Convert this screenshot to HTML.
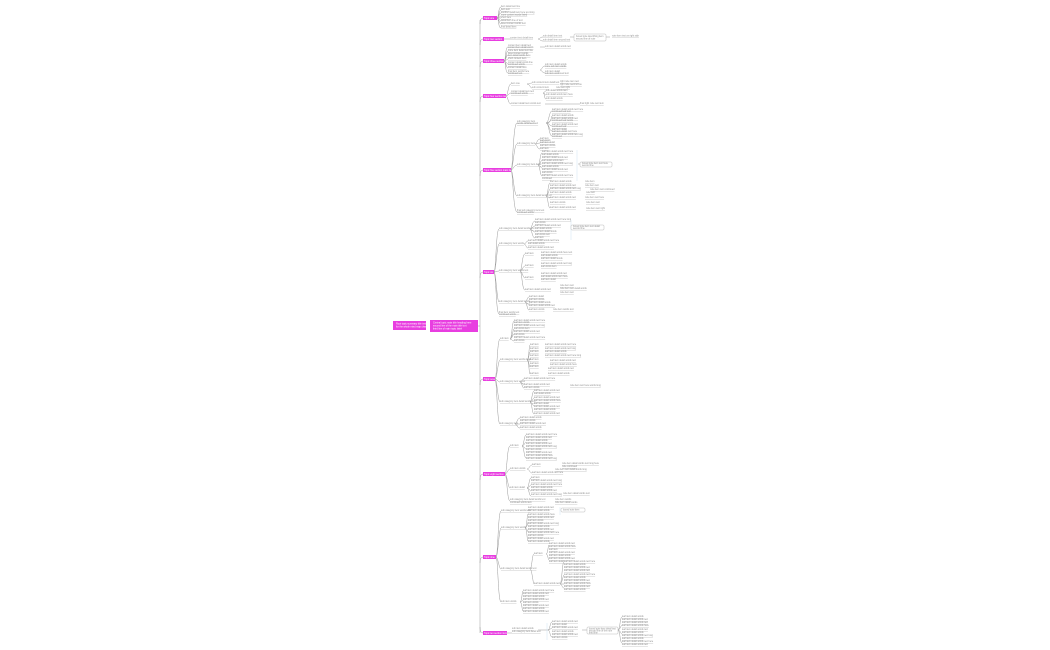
<!DOCTYPE html>
<html><head><meta charset="utf-8">
<style>
html,body{margin:0;padding:0;background:#fff;width:1050px;height:650px;overflow:hidden}
svg{display:block}
.l{font-family:"Liberation Sans",sans-serif;font-size:2.3px;fill:#8f8f8f;text-decoration:underline}
.b{font-family:"Liberation Sans",sans-serif;font-size:2.4px;fill:#fff}
.c{fill:none;stroke:#9a9a9a;stroke-width:0.5}
.u{stroke:#b4b4b4;stroke-width:0.5}
</style></head><body>
<svg width="1050" height="650" viewBox="0 0 1050 650" xmlns="http://www.w3.org/2000/svg">
<!-- root -->
<rect x="393" y="321" width="33" height="9" fill="#e83ee0"/>
<text class="b" x="396" y="324.5">Root topic summary title text</text>
<text class="b" x="396" y="327.5">for the whole mind map chart</text>
<rect x="430" y="320" width="48" height="12" fill="#e83ee0"/>
<text class="b" x="433" y="323.5">Central topic main title heading here</text>
<text class="b" x="433" y="326.5">second line of the main title text</text>
<text class="b" x="433" y="329.5">third line of main topic label</text>
<!-- spine -->
<path class="c" d="M478 326 H480 M480 20 V633"/>
<path class="c" d="M480 24 Q480 18 483 18 M480 45 Q480 39 483 39 M480 67 Q480 61 483 61 M480 102 Q480 96 483 96 M480 176 Q480 170 483 170 M480 278 Q480 272 483 272 M480 385 Q480 379 483 379 M480 480 Q480 474 483 474 M480 563 Q480 557 483 557 M480 627 Q480 633 483 633"/>
<g fill="#e83ee0">
<rect x="483" y="16" width="14" height="4"/>
<rect x="483" y="37" width="21" height="4"/>
<rect x="483" y="59" width="21" height="4"/>
<rect x="483" y="94" width="23" height="4"/>
<rect x="483" y="168" width="28" height="4"/>
<rect x="483" y="270" width="11" height="4"/>
<rect x="483" y="377" width="12" height="4"/>
<rect x="483" y="472" width="22" height="4"/>
<rect x="483" y="555" width="13" height="4"/>
<rect x="483" y="631" width="24" height="4"/>
</g>
<g class="b">
<text x="484" y="18.8">Topic one</text>
<text x="484" y="39.8">Topic two section</text>
<text x="484" y="61.8">Topic three section</text>
<text x="484" y="96.8">Topic four section item</text>
<text x="484" y="170.8">Topic five section main item</text>
<text x="484" y="272.8">Topic six</text>
<text x="484" y="379.8">Topic seven</text>
<text x="484" y="474.8">Topic eight section</text>
<text x="484" y="557.8">Topic nine</text>
<text x="484" y="633.8">Topic ten section item</text>
</g>

<!-- branch 1 -->
<path class="c" d="M497 18 C499 18 498 7 501 7 M497 18 C499 18 499 10 501 10 M497 18 C499 18 499 13 501 13 M497 18 C499 18 500 16 501 16 M497 18 H501 M497 18 C499 18 500 21 501 21 M497 18 C499 18 499 24 501 24 M497 18 C499 18 498 28 501 28"/>
<g class="l">
<text x="501" y="7">item detail text line</text>
<text x="501" y="10">item text</text>
<text x="501" y="13">another detail item here text long</text>
<text x="501" y="15.5">more content words listed</text>
<text x="501" y="18">short item</text>
<text x="501" y="21">detail item line of text</text>
<text x="501" y="24">listed content words text</text>
<text x="501" y="27.5">final detail item</text>
</g>
<!-- branch 2 -->
<path class="c" d="M504 39 H510 M538 39 C540 39 540 37 543 37 M538 39 C540 39 540 41 543 41 M570 37 H574 M606 37 H610"/>
<g class="l">
<text x="510" y="38.5">content text detail item</text>
<text x="543" y="36.5">sub detail item text</text>
<text x="543" y="40.5">sub detail item second text</text>
<text x="612" y="36.5">note item text on right side</text>
</g>
<rect x="574" y="34" width="32" height="7" rx="1" fill="#fff" stroke="#aaa" stroke-width="0.4"/>
<text class="l" x="576" y="37" style="text-decoration:none">boxed note describing item</text>
<text class="l" x="576" y="39.5" style="text-decoration:none">second line of note</text>

<!-- branch 3 -->
<path class="c" d="M504 61 C506 61 505 47 508 47 M504 61 C506 61 506 51 508 51 M504 61 C506 61 506 55 508 55 M504 61 C506 61 507 59 508 59 M504 61 C506 61 507 64 508 64 M504 61 C506 61 506 68 508 68 M504 61 C506 61 505 73 508 73 M540 47 H545 M540 70 C542 70 542 66 545 66 M540 70 C542 70 542 73 545 73"/>
<g class="l">
<text x="508" y="46">content item detail text</text><text x="508" y="48">content item detail words</text>
<text x="508" y="51">more item detail text line</text>
<text x="508" y="54">listed content words</text><text x="508" y="56">item detail words here</text>
<text x="508" y="59">short content item</text>
<text x="508" y="63">content detail words line</text><text x="508" y="65">continued words</text>
<text x="508" y="68">content detail item</text>
<text x="508" y="72">final item words here</text><text x="508" y="74">continued text</text>
<text x="545" y="47">sub item detail words text</text>
<text x="545" y="65">sub item detail words</text><text x="545" y="67">more sub item words</text>
<text x="545" y="72">sub item detail</text><text x="545" y="74">sub item continued text</text>
</g>
<!-- branch 4 -->
<path class="c" d="M506 96 C508 96 508 84 511 84 M506 96 C508 96 509 93 511 93 M506 96 C508 96 508 104 511 104 M527 84 C530 84 530 83 532 83 M527 84 C530 84 530 88 532 88 M543 93 C545 93 544 91 546 91 M543 93 C545 93 545 95 546 95 M543 93 C545 93 544 99 546 99 M545 104 H580"/>
<g class="l">
<text x="511" y="84">item one</text>
<text x="511" y="92">content detail item text</text><text x="511" y="94">continued words</text>
<text x="511" y="104">content detail item words text</text>
<text x="532" y="83">sub content item detail text</text><text x="560" y="82">right note item text</text><text x="560" y="85">right note second line</text>
<text x="532" y="88">sub content item</text><text x="556" y="88">note text right</text>
<text x="546" y="91">sub detail words item</text>
<text x="546" y="95">sub detail words item here</text>
<text x="546" y="99">sub detail words</text>
<text x="580" y="104">final right note text item</text>
</g>
<!-- branch 5 -->
<path class="c" d="M511 170 C513 170 513 123 517 123 M511 170 C513 170 514 144 517 144 M511 170 C513 170 514 165 517 165 M511 170 C513 170 514 196 517 196 M511 170 C513 170 513 212 517 212
M546 123 C549 123 549 111 552 111 M546 123 C549 123 550 123 552 116 M546 123 C549 123 550 120 552 120 M546 123 C549 123 550 126 552 126 M546 123 C549 123 549 131 552 131 M546 123 C549 123 549 136 552 136
M535 144 C537 144 537 139 540 139 M535 144 C537 144 538 143 540 143 M535 144 C537 144 537 149 540 149
M538 165 C540 165 540 153 542 153 M538 165 C540 165 541 160 542 160 M538 165 C540 165 541 168 542 168 M538 165 C540 165 540 176 542 176 M578 164 H580
M546 196 C548 196 548 183 550 183 M546 196 C548 196 549 189 550 189 M546 196 C548 196 549 198 550 198 M546 196 C548 196 548 208 550 208"/>
<line x1="577" y1="150" x2="577" y2="181" stroke="#cfe3f3" stroke-width="0.5"/>
<g class="l">
<text x="517" y="122">sub category item</text><text x="517" y="124">words continued text</text>
<text x="517" y="144">sub category item</text>
<text x="517" y="165">sub category item detail</text>
<text x="517" y="196">sub category item detail words list</text>
<text x="517" y="211">final sub category item text</text><text x="517" y="213">continued words</text>
<text x="552" y="110">leaf item detail words text here</text><text x="552" y="112">continued leaf text</text>
<text x="552" y="116">leaf item detail words</text>
<text x="552" y="119">leaf item detail words text</text><text x="552" y="121">continued leaf words</text>
<text x="552" y="125">leaf item detail words text</text><text x="552" y="127">continued leaf</text>
<text x="552" y="130">leaf item detail</text><text x="552" y="132">leaf item words text here</text>
<text x="552" y="135">leaf item detail words text long</text><text x="552" y="137">continued</text>
<text x="540" y="139">leaf item</text><text x="540" y="141">leaf words</text>
<text x="540" y="143">leaf item detail</text><text x="540" y="146">leaf item words</text>
<text x="540" y="149">leaf item</text>
<text x="542" y="152">leaf item detail words text here</text><text x="542" y="155">leaf detail words</text>
<text x="542" y="158">leaf item detail words text</text><text x="542" y="161">leaf detail words item</text>
<text x="542" y="164">leaf item detail words text long</text><text x="542" y="167">leaf detail words</text>
<text x="542" y="170">leaf item detail words text</text><text x="542" y="173">leaf words</text>
<text x="542" y="176">leaf item detail words text here</text><text x="542" y="179">continued</text>
<text x="550" y="182">leaf item detail words</text><text x="585" y="182">note item</text>
<text x="550" y="186">leaf item detail words text</text><text x="585" y="186">note item text</text>
<text x="550" y="189">leaf item detail words text long</text><text x="590" y="190">note item text continued</text>
<text x="550" y="193">leaf item detail words</text><text x="586" y="193">note text</text>
<text x="550" y="198">leaf item detail words text</text><text x="585" y="198">note item text here</text>
<text x="550" y="203">leaf item words</text><text x="586" y="203">note item text</text>
<text x="550" y="208">leaf item detail words text</text><text x="586" y="209">note item text right</text>
</g>
<rect x="580" y="162" width="32" height="5" rx="1" fill="#fff" stroke="#aaa" stroke-width="0.4"/>
<text class="l" x="582" y="164" style="text-decoration:none">boxed note item text here</text>
<text class="l" x="582" y="166.2" style="text-decoration:none">second line</text>

<!-- branch 6 -->
<path class="c" d="M494 272 C496 272 496 229 499 229 M494 272 C496 272 497 244 499 244 M494 272 C496 272 497 271 499 271 M494 272 C496 272 497 302 499 302 M494 272 C496 272 496 314 499 314
M530 229 C532 229 532 221 535 221 M530 229 C532 229 533 226 535 226 M530 229 C532 229 533 232 535 232 M530 229 C532 229 532 238 535 238
M524 244 C526 244 526 241 528 241 M524 244 C526 244 526 248 528 248
M520 271 C522 271 522 254 525 254 M520 271 C522 271 523 266 525 266 M520 271 C522 271 523 278 525 278 M520 271 C522 271 522 290 525 290
M525 302 C527 302 527 297 529 297 M525 302 C527 302 528 305 529 305 M525 302 C527 302 527 310 529 310"/>
<line x1="571" y1="220" x2="571" y2="240" stroke="#cfe3f3" stroke-width="0.5"/>
<g class="l">
<text x="499" y="229">sub category item detail words text</text>
<text x="499" y="244">sub category item words</text>
<text x="499" y="271">sub category item words text</text>
<text x="499" y="302">sub category item detail words</text>
<text x="499" y="313">final item words text</text><text x="499" y="315">continued words</text>
<text x="535" y="220">leaf item detail words text here long</text><text x="535" y="223">leaf words</text>
<text x="535" y="226">leaf item detail words text</text><text x="535" y="229">leaf detail words</text>
<text x="535" y="232">leaf item detail words</text><text x="535" y="235">leaf words text</text>
<text x="535" y="238">leaf item</text>
<text x="528" y="241">leaf item detail words text here</text><text x="528" y="244">leaf detail words</text>
<text x="528" y="248">leaf item detail words text</text>
<text x="525" y="254">leaf item</text><text x="541" y="253">leaf item detail words here text</text><text x="541" y="256">leaf detail words</text>
<text x="541" y="259">leaf item detail words</text>
<text x="525" y="266">leaf item</text><text x="541" y="264">leaf item detail words text long</text><text x="541" y="267">leaf words item</text>
<text x="525" y="278">leaf item</text><text x="541" y="274">leaf item detail words text</text><text x="541" y="277">leaf detail words item here</text><text x="541" y="280">leaf item detail</text>
<text x="525" y="290">leaf item detail words text</text><text x="560" y="286">note item text</text><text x="560" y="289">note item text detail words</text><text x="560" y="293">note item text</text>
<text x="529" y="297">leaf item detail</text><text x="529" y="300">leaf item words</text>
<text x="529" y="303">leaf item detail words</text><text x="529" y="306">leaf item detail words text</text>
<text x="529" y="310">leaf item words</text><text x="553" y="310">note item words text</text>
</g>
<rect x="571" y="225" width="33" height="5" rx="1" fill="#fff" stroke="#aaa" stroke-width="0.4"/>
<text class="l" x="573" y="227" style="text-decoration:none">boxed note item text detail</text>
<text class="l" x="573" y="229.2" style="text-decoration:none">second line</text>

<!-- branch 7 -->
<path class="c" d="M495 379 C497 379 497 339 500 339 M495 379 C497 379 498 360 500 360 M495 379 C497 379 498 382 500 382 M495 379 C497 379 498 402 500 402 M495 379 C497 379 497 424 500 424
M510 339 C512 339 512 321 514 321 M510 339 C512 339 513 329 514 329 M510 339 C512 339 513 334 514 334 M510 339 C512 339 512 341 514 341
M527 360 C529 360 529 345 530 345 M527 360 C529 360 529 352 530 352 M527 360 C529 360 529 360 530 360 M527 360 C529 360 529 367 530 367 M527 360 C529 360 529 374 530 374
M520 382 C522 382 522 379 524 379 M520 382 C522 382 523 385 524 385 M520 382 C522 382 522 388 524 388
M530 402 C532 402 532 391 534 391 M530 402 C532 402 533 398 534 398 M530 402 C532 402 533 406 534 406 M530 402 C532 402 532 414 534 414
M515 424 C517 424 517 418 520 418 M515 424 C517 424 518 424 520 424 M515 424 C517 424 517 428 520 428"/>
<g class="l">
<text x="500" y="339">sub item</text>
<text x="500" y="360">sub category item words detail</text>
<text x="500" y="382">sub category item words</text>
<text x="500" y="402">sub category item detail words text</text>
<text x="500" y="424">sub category item</text>
<text x="514" y="321">leaf item detail words text here</text><text x="514" y="323">leaf item words</text>
<text x="514" y="326">leaf item detail words text long</text><text x="514" y="329">leaf words item</text>
<text x="514" y="332">leaf item detail words text</text><text x="514" y="335">leaf words</text>
<text x="514" y="338">leaf item detail words text here</text><text x="514" y="341">leaf words</text>
<text x="530" y="345">leaf item</text><text x="545" y="345">leaf item detail words text here</text>
<text x="530" y="349">leaf item</text><text x="545" y="349">leaf item detail words text long</text>
<text x="530" y="352">leaf item</text><text x="545" y="352">leaf item detail words</text>
<text x="530" y="356">leaf item</text><text x="545" y="356">leaf item detail words text here long</text>
<text x="530" y="360">leaf item</text><text x="550" y="361">leaf item detail words text</text>
<text x="530" y="364">leaf item</text><text x="550" y="365">leaf item detail words here</text>
<text x="530" y="367">leaf item</text><text x="548" y="369">leaf item detail words text</text>
<text x="530" y="374">leaf item</text><text x="548" y="374">leaf item detail words</text>
<text x="524" y="379">leaf item detail words text here</text>
<text x="524" y="385">leaf item detail words text</text><text x="570" y="386">note item text here words long</text>
<text x="524" y="388">leaf item words</text>
<text x="534" y="391">leaf item detail words text</text><text x="534" y="394">leaf detail words</text>
<text x="534" y="398">leaf item detail words text</text><text x="534" y="401">leaf item detail words here</text>
<text x="534" y="404">leaf item detail</text><text x="534" y="407">leaf item detail words text</text>
<text x="534" y="410">leaf item detail words</text><text x="534" y="414">leaf item detail words text</text>
<text x="520" y="418">leaf item detail words</text><text x="520" y="421">leaf item words</text>
<text x="520" y="424">leaf item detail words text</text><text x="520" y="428">leaf item detail words</text>
</g>

<!-- branch 8 -->
<path class="c" d="M505 474 C507 474 507 446 510 446 M505 474 C507 474 508 469 510 469 M505 474 C507 474 508 488 510 488 M505 474 C507 474 507 501 510 501
M522 446 C524 446 524 435 526 435 M522 446 C524 446 525 442 526 442 M522 446 C524 446 525 449 526 449 M522 446 C524 446 524 458 526 458
M527 469 C529 469 530 465 532 465 M527 469 C529 469 530 473 532 473
M527 488 C529 488 529 478 531 478 M527 488 C529 488 530 485 531 485 M527 488 C529 488 530 491 531 491 M527 488 C529 488 529 496 531 496"/>
<g class="l">
<text x="510" y="446">sub item</text><text x="510" y="469">sub item words</text>
<text x="510" y="488">sub item detail</text><text x="510" y="500">sub category item detail words text</text><text x="510" y="503">continued words item</text>
<text x="526" y="435">leaf item detail words text here</text><text x="526" y="438">leaf item detail words text</text>
<text x="526" y="441">leaf item detail words</text><text x="526" y="444">leaf item detail words text</text>
<text x="526" y="447">leaf item detail words text long</text><text x="526" y="450">leaf item words</text>
<text x="526" y="453">leaf item detail words text</text><text x="526" y="456">leaf item detail words here</text>
<text x="526" y="459">leaf item detail words text long</text>
<text x="532" y="465">leaf item</text><text x="562" y="464">note item detail words text long here</text><text x="562" y="467">note continued</text>
<text x="532" y="473">leaf item detail words text here</text><text x="555" y="470">note item text detail words long</text>
<text x="531" y="478">leaf item</text><text x="531" y="481">leaf item detail words text long</text>
<text x="531" y="485">leaf item detail words text here</text><text x="531" y="488">leaf item detail words</text>
<text x="531" y="491">leaf item detail words text</text><text x="531" y="495">leaf item detail words text long</text><text x="563" y="494">note item detail words text</text>
<text x="555" y="500">note item words</text><text x="555" y="503">note item detail words</text>
</g>

<!-- branch 9 -->
<path class="c" d="M496 557 C498 557 498 511 501 511 M496 557 C498 557 499 528 501 528 M496 557 C498 557 499 569 501 569 M496 557 C498 557 498 602 501 602
M525 528 C527 528 527 514 528 514 M525 528 C527 528 528 522 528 522 M525 528 C527 528 528 532 528 532 M525 528 C527 528 527 541 528 541
M530 569 C532 569 532 554 534 554 M530 569 C532 569 533 584 534 584 M560 584 C562 584 562 562 564 562 M560 584 C562 584 563 575 564 575 M560 584 C562 584 563 584 564 584 M560 584 C562 584 562 588 564 588 M546 554 C548 554 548 545 549 545 M546 554 C548 554 548 560 549 560
M520 602 C522 602 522 591 523 591 M520 602 C522 602 523 600 523 600 M520 602 C522 602 522 611 523 611"/>
<line x1="560" y1="507" x2="560" y2="515" stroke="#cfe3f3" stroke-width="0.5"/>
<g class="l">
<text x="501" y="511">sub category item words text</text>
<text x="501" y="528">sub category item words</text>
<text x="501" y="569">sub category item detail words text</text>
<text x="501" y="602">sub item words</text>
<text x="528" y="508">leaf item detail words text</text><text x="528" y="511">leaf item detail words</text>
<text x="528" y="515">leaf item detail words here</text><text x="528" y="518">leaf item detail words text</text>
<text x="528" y="521">leaf item words</text><text x="528" y="524">leaf item detail words text long</text>
<text x="528" y="527">leaf item detail words</text><text x="528" y="530">leaf item detail words text</text>
<text x="528" y="533">leaf item detail words text here</text><text x="528" y="536">leaf item words</text>
<text x="528" y="539">leaf item detail words text</text><text x="528" y="542">leaf item detail words</text>
<text x="534" y="554">leaf item</text><text x="549" y="544">leaf item detail words text</text><text x="549" y="547">leaf item detail words here</text>
<text x="549" y="550">leaf item</text><text x="549" y="553">leaf item detail words text</text><text x="549" y="556">leaf item detail words</text>
<text x="549" y="559">leaf item detail words text</text><text x="549" y="562">leaf item detail</text>
<text x="534" y="584">leaf item detail words text</text>
<text x="564" y="562">leaf item detail words text here</text><text x="564" y="565">leaf item detail words</text>
<text x="564" y="568">leaf item detail words text</text><text x="564" y="571">leaf item detail words text</text>
<text x="564" y="575">leaf item detail words text here</text><text x="564" y="578">leaf item detail words</text>
<text x="564" y="581">leaf item detail words text</text><text x="564" y="584">leaf item detail words here</text>
<text x="564" y="587">leaf item detail words text</text><text x="564" y="590">leaf item detail words</text>
<text x="523" y="591">leaf item detail words text here</text><text x="523" y="594">leaf item detail words text</text>
<text x="523" y="597">leaf item detail words</text><text x="523" y="600">leaf item detail words text</text>
<text x="523" y="603">leaf item words</text><text x="523" y="606">leaf item detail words text</text>
<text x="523" y="609">leaf item detail words</text><text x="523" y="612">leaf item detail words text</text>
</g>
<rect x="561" y="508" width="24" height="4" rx="1" fill="#fff" stroke="#aaa" stroke-width="0.4"/>
<text class="l" x="563" y="510.7" style="text-decoration:none">boxed note item</text>

<!-- branch 10 -->
<path class="c" d="M507 633 H512 M538 630 H548 M548 630 C550 630 550 622 552 622 M548 630 C550 630 551 628 552 628 M548 630 C550 630 550 637 552 637 M582 630 H587 M618 630 C620 630 620 617 622 617 M618 630 C620 630 621 625 622 625 M618 630 C620 630 621 634 622 634 M618 630 C620 630 620 643 622 643"/>
<line x1="547" y1="623" x2="547" y2="640" stroke="#cfe3f3" stroke-width="0.5"/>
<g class="l">
<text x="512" y="629">sub item detail words</text><text x="512" y="632">sub category item detail text</text>
<text x="552" y="622">leaf item detail words text</text><text x="552" y="625">leaf item detail</text>
<text x="552" y="628">leaf item detail words text</text><text x="552" y="632">leaf item detail words</text>
<text x="552" y="635">leaf item detail words text</text><text x="552" y="638">leaf item words</text>
<text x="622" y="617">leaf item detail words</text><text x="622" y="620">leaf item detail words text</text>
<text x="622" y="623">leaf item detail words text</text><text x="622" y="626">leaf item detail words here</text>
<text x="622" y="630">leaf item detail words text</text><text x="622" y="633">leaf item detail words</text>
<text x="622" y="636">leaf item detail words text long</text><text x="622" y="639">leaf item detail words</text>
<text x="622" y="642">leaf item detail words text here</text><text x="622" y="645">leaf item detail words text</text>
</g>
<rect x="587" y="627" width="31" height="7" rx="1" fill="#fff" stroke="#aaa" stroke-width="0.4"/>
<text class="l" x="589" y="629.5" style="text-decoration:none">boxed note item detail text</text>
<text class="l" x="589" y="631.7" style="text-decoration:none">second line of the note</text>
<text class="l" x="589" y="633.7" style="text-decoration:none">third line</text>
</svg>
</body></html>
